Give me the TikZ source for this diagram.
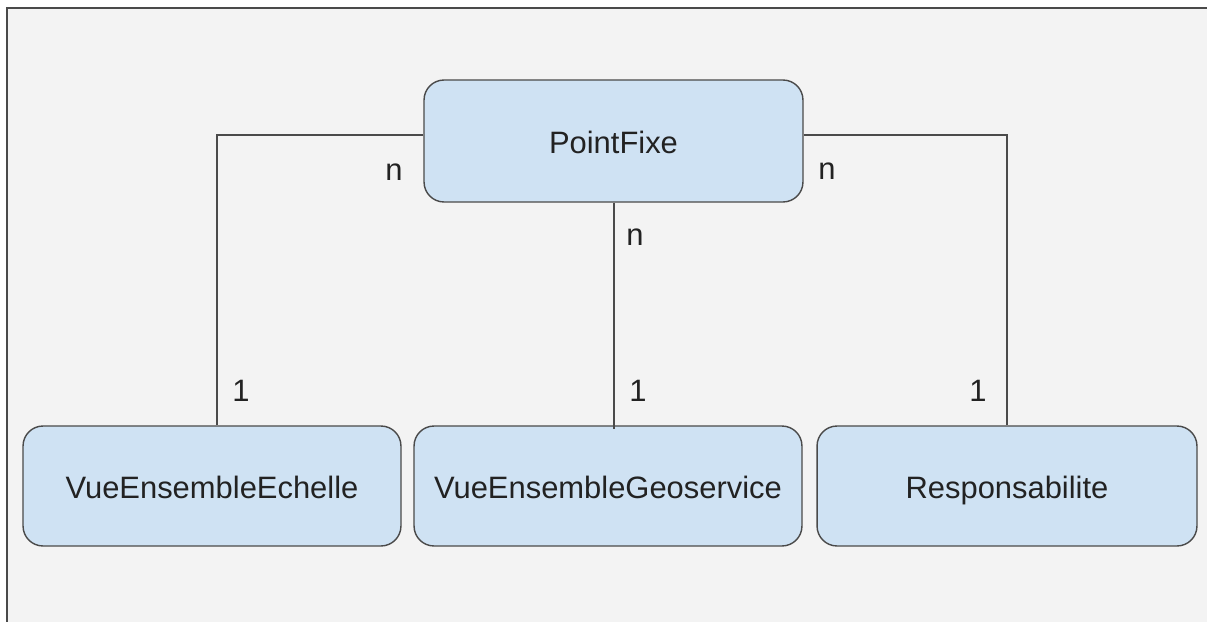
\documentclass[tikz,border=0pt]{standalone}
\usepackage{fontspec}
\setmainfont{Liberation Sans}
\usepackage{xcolor}
\usepackage{tikz}
\definecolor{bgpage}{HTML}{F3F3F3}
\definecolor{boxfill}{HTML}{CFE2F3}
\definecolor{boxline}{HTML}{4A4A4A}
\definecolor{inktext}{HTML}{222222}
\tikzstyle{entity} = [draw=boxline, fill=boxfill, line width=0.8pt,
rectangle, rounded corners=0.4cm, inner sep=0pt, text=inktext,
text height=14.3pt, text depth=0pt,
font=\fontsize{17.6}{20}\selectfont]
\tikzstyle{card} = [inner sep=0pt, text=inktext, font=\fontsize{17.6}{20}\selectfont]
\tikzstyle{link} = [draw=boxline, line width=0.8pt]

\begin{document}
\begin{tikzpicture}[x=0.02cm, y=-0.02cm]
        \useasboundingbox (0,0) rectangle (1207,622);
        \fill[white] (0,0) rectangle (1207,622);
        \fill[bgpage] (7,8) rectangle (1207,622);
        \draw[boxline, line width=1.1pt] (7,622) -- (7,8) -- (1207,8);
        % entities
        \node [entity, minimum width=7.58cm, minimum height=2.44cm] (pf) at (613.5,141) {PointFixe};
        \node [entity, minimum width=7.56cm, minimum height=2.4cm] (ech) at (212,486) {VueEnsembleEchelle};
        \node [entity, minimum width=7.76cm, minimum height=2.4cm] (geo) at (608,486) {VueEnsembleGeoservice};
        \node [entity, minimum width=7.6cm, minimum height=2.4cm] (resp) at (1007,486) {Responsabilite};
        % links
        \draw [link] ([yshift=0.12cm]pf.west) -| ([xshift=0.1cm]ech.north);
        \draw [link] ([yshift=0.12cm]pf.east) -| (resp.north);
        \draw [link] ([xshift=0.01cm]pf.south) -- ([xshift=0.01cm, yshift=-0.08cm]pf.south |- geo.north);
        % cardinalities
        \node [card] (ech-n) at (394,172) {n};
        \node [card] (ech-1) at (241,391) {1};
        \node [card] (geo-n) at (635,237) {n};
        \node [card] (geo-1) at (638,391) {1};
        \node [card] (resp-n) at (827,171) {n};
        \node [card] (resp-1) at (978,391) {1};
    \end{tikzpicture}
\end{document}
